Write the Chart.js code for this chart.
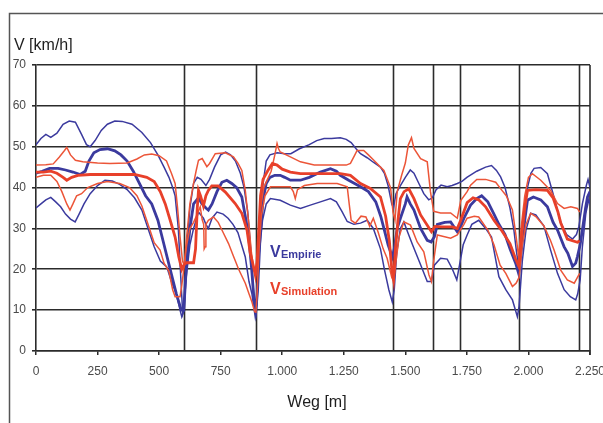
<!DOCTYPE html>
<html>
<head>
<meta charset="utf-8">
<script src="https://cdn.jsdelivr.net/npm/chart.js@4.4.0/dist/chart.umd.min.js"></script>
<style>
  html, body { margin: 0; padding: 0; background: #fff; }
  #wrap { position: relative; width: 603px; height: 423px; }
</style>
</head>
<body>
<div id="wrap"><canvas id="vChart" width="603" height="423"></canvas></div>
<script>
// Weg [m] / V [km/h] pairs
const vEmpOben = [[0,50.5],[20,52],[40,53],[60,52.3],[85,53.3],[110,55.5],[135,56.3],[160,56],[185,53],[205,50.5],[220,50],[240,51.5],[265,54],[290,55.5],[320,56.3],[350,56.2],[390,55.5],[430,53.5],[465,51],[495,48],[520,45],[540,42.5],[555,40],[565,38],[578,30],[588,18],[596,9],[602,10],[612,25],[625,35],[640,41],[655,42.5],[670,42],[690,40.5],[705,42],[725,45],[750,48],[770,48.7],[790,48],[810,46.5],[830,43.5],[845,40],[860,34],[872,25],[884,14],[892,9],[898,12],[908,28],[920,40],[935,46.5],[950,48],[980,48.5],[1010,48.3],[1035,48.3],[1070,49.5],[1110,50.5],[1140,51.5],[1170,52],[1200,52],[1236,52.2],[1260,51.8],[1280,51],[1300,49.5],[1318,48.3],[1345,47.3],[1370,46.2],[1399,45],[1415,43.5],[1430,40.5],[1445,36],[1452,35],[1462,38.5],[1480,40.5],[1500,42.5],[1520,44.3],[1535,43.5],[1555,41],[1575,38.5],[1595,37],[1610,37.5],[1625,39.5],[1645,40.6],[1670,40.2],[1690,40.5],[1711,41],[1730,41.5],[1750,42.5],[1790,44],[1826,45],[1850,45.4],[1870,44.2],[1887,42.6],[1905,40],[1925,35],[1941,29.6],[1952,24],[1960,21],[1968,26],[1982,33.7],[1996,40],[2010,43.5],[2023,44.7],[2050,44.9],[2077,43.4],[2100,38.5],[2131,31.4],[2155,28.5],[2179,27.4],[2195,28.5],[2205,30.5],[2219,36],[2235,40.5],[2242,42],[2250,40]];
const vEmpMitte = [[0,43.5],[25,44],[55,44.7],[90,44.7],[120,44.3],[150,43.8],[180,43.2],[200,44],[215,46.5],[235,48.5],[260,49.3],[290,49.5],[320,49],[345,48],[370,46.5],[395,44],[420,41],[445,38],[470,36],[495,32],[520,26],[545,20],[570,14],[590,10],[600,10],[610,20],[625,30],[640,36],[660,37.5],[673,36.1],[690,35],[700,34.5],[715,36],[735,39],[755,41.3],[775,41.8],[795,41],[815,40],[836,37.7],[850,33],[864,28],[876,20],[886,12],[893,10],[900,15],[910,28],[922,37],[935,41],[950,42.5],[970,43],[992,43],[1010,42.5],[1033,41.8],[1074,41.8],[1110,42.5],[1155,43.8],[1196,44.6],[1220,44],[1236,43],[1270,41.8],[1318,40.2],[1350,39],[1380,36.5],[1400,33],[1413,30],[1430,26],[1447,23],[1455,25],[1467,30],[1480,32.5],[1500,36],[1507,37.7],[1520,36],[1535,34.5],[1562,30],[1589,27.1],[1605,26.7],[1618,28],[1630,31],[1660,31.5],[1684,31.6],[1711,29.2],[1725,30.5],[1738,32.5],[1765,35.7],[1790,37.3],[1810,38],[1835,36.5],[1860,33.5],[1880,31],[1905,28.5],[1925,25],[1948,21.5],[1960,19],[1970,24],[1985,32],[1996,36.9],[2020,37.7],[2050,37],[2077,35.3],[2100,31.5],[2118,29.6],[2145,25.5],[2160,23.9],[2179,20.7],[2192,21.5],[2199,23.1],[2210,26],[2219,29.6],[2232,35],[2240,37.7],[2250,39]];
const vEmpUnten = [[0,35],[20,36],[40,37],[60,37.6],[80,36.5],[100,35.3],[120,33.5],[140,32.3],[159,31.6],[175,33.5],[195,36],[220,38.5],[250,40.5],[280,41.8],[310,41.6],[340,40.8],[370,39.5],[400,37.5],[430,34.5],[455,30],[480,25.5],[505,22],[531,20.6],[550,17],[570,14],[585,10],[592,8.4],[600,10],[610,18],[625,26],[640,30],[660,34],[680,32.5],[690,31],[700,30],[715,32.5],[735,34],[760,33.5],[780,32.5],[800,31],[820,29],[850,23],[865,17],[877,14],[890,8.5],[897,12],[907,24],[920,32],[935,36],[952,37.3],[992,36.9],[1033,35.7],[1074,34.9],[1114,35.7],[1155,36.5],[1196,37.3],[1220,36.5],[1243,34.1],[1264,31.7],[1291,31],[1318,31.3],[1345,32],[1370,30],[1399,25],[1415,20],[1433,15],[1447,12],[1455,15],[1465,24],[1480,30],[1494,31.6],[1510,29],[1530,25.9],[1562,21.1],[1589,17],[1606,17],[1618,21],[1643,22.7],[1670,22.5],[1690,20.2],[1709,17.4],[1720,21],[1735,26],[1751,28.4],[1770,31],[1798,32],[1826,30],[1850,27.9],[1880,18.2],[1908,15],[1935,12.5],[1955,8.4],[1962,11],[1975,22],[1990,29.6],[2009,33.7],[2030,33.3],[2063,30.6],[2090,24.7],[2118,19],[2145,15],[2170,13.3],[2192,12.5],[2200,14],[2210,17.4],[2219,25.5],[2233,33.7],[2245,37],[2250,36]];

const vSimOben = [[0,45.5],[40,45.6],[70,45.8],[95,47.5],[115,49],[125,49.8],[140,48],[160,46.7],[190,46.3],[250,46],[300,45.9],[370,46],[410,47],[440,48],[470,48.2],[500,47.8],[530,46.5],[550,43.5],[565,41],[575,35],[585,28],[595,22],[602,21],[612,28],[625,36],[640,41],[650,44],[660,46.7],[675,47.1],[694,45.1],[705,45.9],[728,48.3],[769,48.5],[802,47.5],[820,46],[836,44.2],[850,39.3],[864,31.4],[875,24],[885,20],[893,19],[902,25],[912,35],[925,40],[940,42],[955,44],[970,48],[979,50.8],[985,49.5],[992,48.7],[1033,47.5],[1074,46.3],[1130,45.5],[1200,45.5],[1260,45.5],[1277,45.9],[1295,48],[1304,49.1],[1331,49.1],[1350,48],[1372,46.7],[1399,45],[1413,44.2],[1440,40],[1450,34],[1458,32],[1467,39],[1485,43],[1500,46],[1512,50.4],[1525,52.2],[1535,49.6],[1562,47.1],[1589,46.3],[1602,39],[1615,34.2],[1643,33.8],[1684,33.8],[1711,32.5],[1725,36.8],[1751,39],[1765,40.6],[1790,42],[1826,42],[1867,41.3],[1890,39.5],[1910,38],[1935,34.5],[1950,28],[1960,23],[1970,30],[1985,38],[2000,42.5],[2016,43.4],[2050,41.8],[2090,39.3],[2118,36.1],[2145,34.9],[2172,35.3],[2199,34.9],[2208,34]];
const vSimMitte = [[0,43.8],[30,43.8],[60,44],[85,43.5],[110,42.5],[125,41.8],[145,42.5],[170,43],[220,43.2],[300,43.2],[400,43.2],[450,42.5],[480,41.5],[505,39],[525,36],[545,32],[565,27.9],[580,23],[592,20],[600,21],[610,21.6],[625,21.6],[640,21.6],[648,25],[655,35],[660,39.3],[668,38],[673,37],[680,35.5],[690,38],[700,39.3],[714,40.4],[740,40.4],[769,38.9],[809,36.1],[836,33.7],[857,29.6],[870,24],[882,21],[891,18.5],[898,22],[905,30],[912,38],[922,42],[940,44],[960,45.9],[979,45.5],[1000,44.5],[1033,43.8],[1074,43.4],[1155,43.4],[1236,43.4],[1277,43],[1318,41],[1358,39.8],[1399,37.7],[1420,33],[1435,27],[1445,20],[1452,17.5],[1460,25],[1470,32],[1480,37.3],[1495,39],[1514,39.7],[1535,37.3],[1562,33.3],[1589,30.8],[1606,29.2],[1620,30.5],[1650,30.4],[1690,30.4],[1711,30],[1725,32],[1751,36.3],[1775,37.5],[1798,37],[1826,35.3],[1860,32],[1890,29.6],[1925,26.3],[1948,22.5],[1961,20.7],[1972,28],[1985,35],[1996,39.3],[2029,39.5],[2077,39.3],[2100,37.5],[2120,34],[2131,31.4],[2158,27.4],[2199,26.6],[2208,27]];
const vSimUnten = [[0,42.5],[30,43],[60,43],[85,41.5],[105,39],[125,36],[138,34.5],[150,36],[165,38],[185,38.5],[210,40],[250,41],[290,41.5],[340,41],[380,40],[410,38],[430,35.5],[455,31],[480,26.5],[504,24.7],[520,21.5],[540,19.5],[555,15],[565,13.3],[585,13.3],[592,16],[600,20],[612,26],[625,30],[640,31.5],[655,33.5],[667,35.3],[675,32.1],[681,31],[683,25],[687,25.5],[690,31],[700,32],[721,32.8],[740,31.5],[760,29],[782,26.3],[800,23.5],[823,20],[850,16.6],[865,14],[877,12],[888,9.6],[893,9.5],[898,14],[906,25],[915,33],[930,38],[952,40.2],[1000,40.2],[1033,40.2],[1045,39],[1053,37.3],[1062,39.5],[1090,40.5],[1142,41],[1223,41],[1264,40.2],[1272,36],[1280,32],[1297,31.3],[1320,33],[1340,32.8],[1355,30.5],[1370,32.5],[1390,29],[1410,25],[1426,22.7],[1445,18],[1453,17],[1462,22],[1475,28],[1494,31.6],[1521,30.8],[1548,26.7],[1575,24.3],[1596,18.6],[1606,17],[1615,22],[1630,28.4],[1684,27.6],[1711,28.4],[1738,31],[1751,32.5],[1780,33],[1798,32.8],[1835,29.6],[1860,26],[1885,21],[1908,19],[1935,15.8],[1950,16.6],[1962,18],[1975,26],[1990,31],[2009,33.7],[2030,32.9],[2063,30.6],[2090,27],[2104,24.7],[2131,19.8],[2158,17.4],[2186,16.6],[2199,18],[2208,19]];

// stops along the route (black vertical lines)
const haltestellen = [600, 895, 1450, 1612, 1720, 1960, 2205];

const xTicks = [0, 250, 500, 750, 1000, 1250, 1500, 1750, 2000, 2250];
const yTicks = [0, 10, 20, 30, 40, 50, 60, 70];

const BLUE = '#3b3a9e';
const RED = '#e8402a';
const RED_THIN = '#ec5538';
const GRID = '#2b2b2b';

Chart.defaults.font.family = '"Liberation Sans", Arial, sans-serif';

function toPoints(pairs) {
    return pairs.map(p => ({ x: p[0], y: p[1] }));
}

function deFormat(v) {
    // 1250 -> "1.250"
    return String(v).replace(/\B(?=(\d{3})+(?!\d))/g, '.');
}

const overlayPlugin = {
    id: 'overlay',
    beforeDraw(chart) {
        const ctx = chart.ctx;
        ctx.save();
        // outer frame (left and top edge only visible)
        ctx.strokeStyle = '#555';
        ctx.lineWidth = 1.5;
        ctx.beginPath();
        ctx.moveTo(9.5, 423);
        ctx.lineTo(9.5, 13.5);
        ctx.lineTo(603, 13.5);
        ctx.stroke();
        ctx.restore();
    },
    beforeDatasetsDraw(chart) {
        const ctx = chart.ctx;
        const area = chart.chartArea;
        const xs = chart.scales.x;
        ctx.save();
        ctx.strokeStyle = GRID;
        ctx.lineWidth = 1.6;
        haltestellen.forEach(m => {
            const px = Math.round(xs.getPixelForValue(m)) + 0.5;
            ctx.beginPath();
            ctx.moveTo(px, area.top);
            ctx.lineTo(px, area.bottom);
            ctx.stroke();
        });
        // right border of plot
        ctx.beginPath();
        ctx.moveTo(area.right, area.top);
        ctx.lineTo(area.right, area.bottom + 4);
        ctx.stroke();
        ctx.restore();
    },
    afterDraw(chart) {
        const ctx = chart.ctx;
        ctx.save();
        ctx.fillStyle = '#1e1e1e';
        ctx.textBaseline = 'alphabetic';
        ctx.font = '16px "Liberation Sans", Arial, sans-serif';
        ctx.textAlign = 'left';
        ctx.fillText('V [km/h]', 14, 50);
        ctx.textAlign = 'center';
        ctx.fillText('Weg [m]', 317, 407);

        // series labels inside the plot
        ctx.textAlign = 'left';
        ctx.fillStyle = BLUE;
        ctx.font = 'bold 16px "Liberation Sans", Arial, sans-serif';
        ctx.fillText('V', 270, 257);
        ctx.font = 'bold 11px "Liberation Sans", Arial, sans-serif';
        ctx.fillText('Empirie', 281, 258);
        ctx.fillStyle = RED;
        ctx.font = 'bold 16px "Liberation Sans", Arial, sans-serif';
        ctx.fillText('V', 270, 294);
        ctx.font = 'bold 11px "Liberation Sans", Arial, sans-serif';
        ctx.fillText('Simulation', 281, 295);
        ctx.restore();
    }
};

function line(data, color, width) {
    return {
        data: toPoints(data),
        borderColor: color,
        borderWidth: width,
        pointRadius: 0,
        tension: 0,
        fill: false
    };
}

new Chart(document.getElementById('vChart'), {
    type: 'line',
    data: {
        datasets: [
            line(vSimMitte, RED, 2.8),
            line(vSimOben, RED_THIN, 1.5),
            line(vSimUnten, RED_THIN, 1.5),
            line(vEmpMitte, BLUE, 2.8),
            line(vEmpOben, BLUE, 1.5),
            line(vEmpUnten, BLUE, 1.5)
        ]
    },
    options: {
        responsive: false,
        animation: false,
        layout: { padding: { left: 0, top: 65, right: 13, bottom: 0 } },
        plugins: {
            legend: { display: false },
            tooltip: { enabled: false }
        },
        scales: {
            x: {
                type: 'linear',
                min: 0,
                max: 2250,
                afterBuildTicks(scale) {
                    scale.ticks = xTicks.map(v => ({ value: v }));
                },
                afterFit(scale) {
                    scale.height = 72;
                    scale.paddingRight = 0;
                },
                ticks: {
                    color: '#4a4a4a',
                    font: { size: 12 },
                    padding: 9,
                    maxRotation: 0,
                    autoSkip: false,
                    callback: v => deFormat(v)
                },
                grid: {
                    drawOnChartArea: false,
                    drawTicks: true,
                    tickLength: 4,
                    color: GRID,
                    lineWidth: 1.5
                },
                border: { display: true, color: GRID, width: 1.6 }
            },
            y: {
                min: 0,
                max: 70,
                afterBuildTicks(scale) {
                    scale.ticks = yTicks.map(v => ({ value: v }));
                },
                afterFit(scale) {
                    scale.width = 36;
                },
                ticks: {
                    color: '#4a4a4a',
                    font: { size: 12 },
                    padding: 6
                },
                grid: {
                    color: GRID,
                    lineWidth: 1.6,
                    tickLength: 4
                },
                border: { display: true, color: GRID, width: 1.6 }
            }
        }
    },
    plugins: [overlayPlugin]
});
</script>
</body>
</html>
